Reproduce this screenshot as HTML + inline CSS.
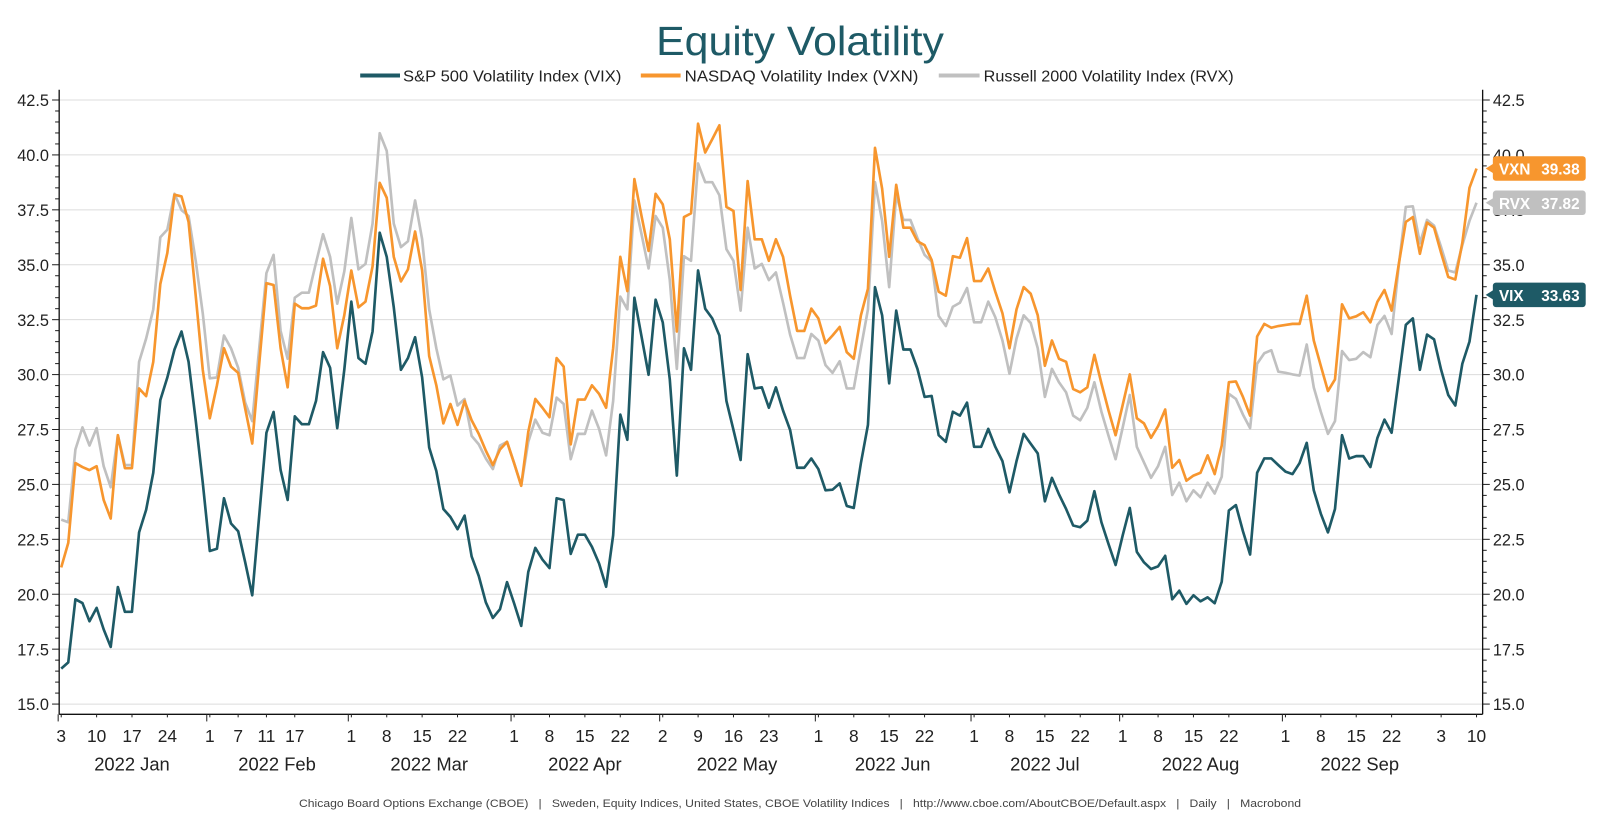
<!DOCTYPE html>
<html><head><meta charset="utf-8"><title>Equity Volatility</title>
<style>
html,body{margin:0;padding:0;background:#fff;}
svg{display:block;font-family:"Liberation Sans",sans-serif;}
.pre{white-space:pre;}
</style></head>
<body>
<svg id="chart" width="1600" height="840" viewBox="0 0 1600 840" xmlns="http://www.w3.org/2000/svg">
<g id="root" transform="scale(1.0204)">
<text x="784" y="54" text-anchor="middle" font-size="40" fill="#1e5a66" textLength="282" lengthAdjust="spacingAndGlyphs">Equity Volatility</text>
<g font-size="15" fill="#222">
 <g><line x1="353" y1="74" x2="392" y2="74" stroke="#1e5a66" stroke-width="4"/><text x="395" y="80" textLength="214" lengthAdjust="spacingAndGlyphs">S&amp;P 500 Volatility Index (VIX)</text></g>
 <g><line x1="628" y1="74" x2="667" y2="74" stroke="#f7962e" stroke-width="4"/><text x="671" y="80" textLength="229" lengthAdjust="spacingAndGlyphs">NASDAQ Volatility Index (VXN)</text></g>
 <g><line x1="920" y1="74" x2="960" y2="74" stroke="#c0c0c0" stroke-width="4"/><text x="964" y="80" textLength="245" lengthAdjust="spacingAndGlyphs">Russell 2000 Volatility Index (RVX)</text></g>
</g>
<g id="grid"></g>
<g id="axes"></g>
<g id="series"></g>
<g id="tags"></g>
<text class="pre" x="784" y="791" text-anchor="middle" font-size="10.5" fill="#444" textLength="982" lengthAdjust="spacingAndGlyphs">Chicago Board Options Exchange (CBOE)   |   Sweden, Equity Indices, United States, CBOE Volatility Indices   |   http://www.cboe.com/AboutCBOE/Default.aspx   |   Daily   |   Macrobond</text>
</g>
</svg>
<script>
const vix = [16.61,16.9,19.77,19.6,18.77,19.38,18.4,17.6,20.33,19.2,19.2,22.82,23.84,25.53,28.84,29.87,31.14,31.96,30.58,27.92,25.08,21.97,22.07,24.37,23.22,22.87,21.45,19.95,23.67,27.35,28.3,25.65,24.29,28.1,27.74,27.74,28.8,31.02,30.31,27.56,30.22,33.32,30.75,30.49,31.96,36.46,35.36,33.06,30.22,30.75,31.7,
29.87,26.68,25.61,23.88,23.52,22.96,23.58,21.72,20.83,19.63,18.92,19.32,20.55,19.59,18.56,21.01,22.11,21.58,21.19,24.37,24.29,21.84,22.71,22.71,22.16,21.4,20.34,22.69,28.18,27.03,33.5,31.73,29.99,33.41,32.38,29.78,25.4,31.2,30.22,34.74,33.0,32.56,31.78,28.8,27.48,26.11,30.93,29.37,29.42,
28.49,29.42,28.36,27.48,25.76,25.76,26.18,25.7,24.73,24.76,25.05,24.02,23.93,25.97,27.71,33.98,32.7,29.6,32.91,31.14,31.14,30.26,28.98,29.03,27.24,26.94,28.31,28.13,28.72,26.71,26.71,27.53,26.71,26.06,24.64,26.06,27.3,26.85,26.41,24.23,25.3,24.55,23.88,23.13,23.05,23.35,24.69,23.28,22.28,
21.33,22.69,23.93,21.93,21.45,21.15,21.27,21.75,19.77,20.16,19.56,19.95,19.68,19.86,19.59,20.57,23.81,24.06,22.87,21.81,25.53,26.18,26.18,25.88,25.58,25.47,25.97,26.89,24.73,23.67,22.82,23.88,27.24,26.18,26.29,26.29,25.79,27.12,27.95,27.35,29.78,32.26,32.56,30.22,31.82,31.6,30.22,29.07,28.59,30.49,31.5,33.63];
const vxn = [21.22,22.34,25.97,25.79,25.65,25.83,24.29,23.45,27.24,25.74,25.74,29.37,29.02,30.58,34.12,35.54,38.19,38.11,36.95,33.59,30.22,28.01,29.51,31.2,30.36,30.08,28.45,26.86,30.58,34.16,34.08,31.2,29.42,33.23,33.02,33.02,33.14,35.27,34.03,31.2,32.7,34.74,33.06,33.32,34.92,38.73,38.05,35.36,34.24,34.79,36.51,
34.74,30.84,29.51,27.78,28.66,27.71,28.8,27.92,27.3,26.54,25.88,26.59,26.94,25.97,24.94,27.39,28.89,28.49,28.06,30.75,30.36,26.82,28.86,28.86,29.51,29.12,28.49,31.2,35.36,33.8,38.9,37.22,35.63,38.23,37.75,36.16,31.96,37.17,37.34,41.42,40.11,40.71,41.35,37.63,37.45,33.85,38.81,36.16,36.16,
35.18,36.16,35.36,33.59,31.99,31.99,33.0,32.56,31.43,31.78,32.17,31.02,30.72,32.7,33.91,40.32,38.46,35.36,38.64,36.69,36.69,36.07,35.89,35.22,33.77,33.59,35.39,35.32,36.21,34.26,34.26,34.83,33.77,32.79,31.2,32.97,33.98,33.68,32.7,30.4,31.55,30.72,30.58,29.34,29.19,29.42,30.9,29.6,28.36,
27.24,28.63,30.01,28.01,27.78,27.12,27.65,28.41,25.76,26.11,25.17,25.4,25.53,26.32,25.47,26.77,29.65,29.69,28.98,28.13,31.73,32.31,32.13,32.21,32.26,32.31,32.31,33.59,31.55,30.4,29.25,29.78,33.2,32.56,32.65,32.84,32.38,33.32,33.85,32.91,35.0,36.95,37.17,35.5,36.92,36.69,35.54,34.44,34.33,36.0,38.5,39.38];
const rvx = [23.4,23.28,26.59,27.6,26.77,27.56,25.83,24.87,27.24,25.88,25.88,30.58,31.64,32.97,36.25,36.6,38.23,37.49,37.22,35.18,32.79,29.83,29.87,31.78,31.2,30.31,28.72,27.88,31.28,34.62,35.45,31.99,30.72,33.5,33.73,33.73,35.09,36.39,35.36,33.23,34.69,37.13,34.79,35.04,36.87,40.99,40.18,36.87,35.8,36.07,37.93,
36.16,32.97,31.2,29.78,29.96,28.59,28.89,27.21,26.82,26.18,25.7,26.77,26.94,25.97,24.94,26.94,27.95,27.35,27.24,28.95,28.66,26.15,27.3,27.3,28.36,27.53,26.32,28.8,33.55,32.97,37.93,36.39,34.83,37.22,36.69,34.3,30.26,35.39,35.18,39.61,38.76,38.76,38.16,35.71,35.18,32.91,36.69,34.83,35.04,
34.3,34.65,33.27,31.82,30.75,30.75,31.85,31.55,30.43,30.08,30.61,29.37,29.37,31.2,32.97,38.76,36.99,33.98,38.19,37.04,37.04,36.21,35.45,35.15,32.67,32.21,33.09,33.27,33.94,32.38,32.38,33.32,32.61,31.55,30.04,31.64,32.7,32.35,31.2,28.98,30.26,29.65,29.19,28.13,27.92,28.49,29.65,28.31,27.21,
26.15,27.6,29.07,26.71,26.0,25.3,25.83,26.71,24.52,25.08,24.23,24.73,24.41,25.08,24.59,25.35,29.12,28.89,28.18,27.56,30.49,30.97,31.11,30.13,30.08,30.01,29.96,31.37,29.42,28.31,27.3,27.88,31.07,30.66,30.72,31.02,30.79,32.26,32.67,31.85,34.92,37.63,37.66,35.98,37.04,36.78,35.8,34.74,34.65,35.9,37.0,37.82];
const yTicks = [15.0,17.5,20.0,22.5,25.0,27.5,30.0,32.5,35.0,37.5,40.0,42.5];
const dayLabels = ["3","10","17","24","1","7","11","17","1","8","15","22","1","8","15","22","2","9","16","23","1","8","15","22","1","8","15","22","1","8","15","22","1","8","15","22","3","10"];
const dayIndex = [0,5,10,15,21,25,29,33,41,46,51,56,64,69,74,79,85,90,95,100,107,112,117,122,129,134,139,144,150,155,160,165,173,178,183,188,195,200];
const monthLabels = ["2022 Jan","2022 Feb","2022 Mar","2022 Apr","2022 May","2022 Jun","2022 Jul","2022 Aug","2022 Sep"];
const monthStart = [0,21,41,64,85,107,129,150,173];
const monthEnd = [20,40,63,84,106,128,149,172,194];

const NS="http://www.w3.org/2000/svg";
const X0=60, X1=1447, NMAX=200, YB=690, YT=98, VMIN=15, VMAX=42.5, LAX=58, RAX=1453;
const xs = i => X0 + (X1-X0)*i/NMAX;
const ys = v => YB - (v-VMIN)*(YB-YT)/(VMAX-VMIN);
function mk(tag, attrs, parent){const e=document.createElementNS(NS,tag);for(const k in attrs)e.setAttribute(k,attrs[k]);parent.appendChild(e);return e;}
const grid=document.getElementById('grid'), axes=document.getElementById('axes'), series=document.getElementById('series'), tags=document.getElementById('tags');

yTicks.forEach(v=>{
  const g=mk('line',{x1:LAX,x2:RAX,y1:ys(v),y2:ys(v),stroke:'#dcdcdc','stroke-width':1},grid);
  
  
  const tl=mk('text',{x:48,y:ys(v)+6,'text-anchor':'end','font-size':16,fill:'#222'},axes);
  tl.textContent=v.toFixed(1);
  
  
  const tr=mk('text',{x:1463,y:ys(v)+6,'font-size':16,fill:'#222'},axes);
  tr.textContent=v.toFixed(1);
  
  
});
for(let v=VMIN; v<=VMAX+0.01; v+=0.5){
  const big = Math.abs((v-VMIN)/2.5 - Math.round((v-VMIN)/2.5))<0.01;
  const w = big?7:4;
  mk('line',{x1:LAX-w,x2:LAX,y1:ys(v),y2:ys(v),stroke:'#222','stroke-width':1},axes);
  mk('line',{x1:RAX,x2:RAX+w,y1:ys(v),y2:ys(v),stroke:'#222','stroke-width':1},axes);
}
const la=mk('line',{x1:LAX,x2:LAX,y1:88,y2:700,stroke:'#111','stroke-width':1.3},axes);


const ra=mk('line',{x1:RAX,x2:RAX,y1:88,y2:700,stroke:'#111','stroke-width':1.3},axes);


const xa=mk('line',{x1:LAX,x2:RAX,y1:700,y2:700,stroke:'#111','stroke-width':1.3},axes);


dayLabels.forEach((d,k)=>{
  const x=xs(dayIndex[k]);
  mk('line',{x1:x,x2:x,y1:700,y2:703,stroke:'#222'},axes);
  const t=mk('text',{x:x,y:727,'text-anchor':'middle','font-size':17,fill:'#222'},axes);
  t.textContent=d;
  
  
});
monthLabels.forEach((m,k)=>{
  const xs0=xs(monthStart[k]);
  mk('line',{x1:xs0-3,x2:xs0-3,y1:700,y2:707,stroke:'#222'},axes);
  const cx=(xs(monthStart[k])+xs(monthEnd[k]))/2;
  const t=mk('text',{x:cx,y:755,'text-anchor':'middle','font-size':18,fill:'#222'},axes);
  t.textContent=m;
  
  
});
function drawLine(arr,color,name){
  const d=arr.map((v,i)=>(i?'L':'M')+xs(i).toFixed(1)+' '+ys(v).toFixed(1)).join(' ');
  const p=mk('path',{d:d,fill:'none',stroke:color,'stroke-width':2.6,'stroke-linejoin':'round'},series);
  
  
}
drawLine(rvx,'#c0c0c0','rvx-line');
drawLine(vxn,'#f7962e','vxn-line');
drawLine(vix,'#1e5a66','vix-line');
function tag(label,val,color,name){
  const y=ys(val);
  const g=mk('g',{},tags);
  
  
  mk('rect',{x:1463,y:y-12,width:91,height:24,rx:3,fill:color},g);
  mk('polygon',{points:`1456,${y} 1464,${y-5} 1464,${y+5}`,fill:color},g);
  const t1=mk('text',{x:1469,y:y+6,'font-size':15,'font-weight':'bold',fill:'#fff'},g);
  t1.textContent=label;
  const t2=mk('text',{x:1548,y:y+6,'text-anchor':'end','font-size':15,'font-weight':'bold',fill:'#fff'},g);
  t2.textContent=val.toFixed(2);
}
tag('VXN',vxn[vxn.length-1],'#f7962e','vxn-end-tag');
tag('RVX',rvx[rvx.length-1],'#c0c0c0','rvx-end-tag');
tag('VIX',vix[vix.length-1],'#1e5a66','vix-end-tag');
</script>
</body></html>
